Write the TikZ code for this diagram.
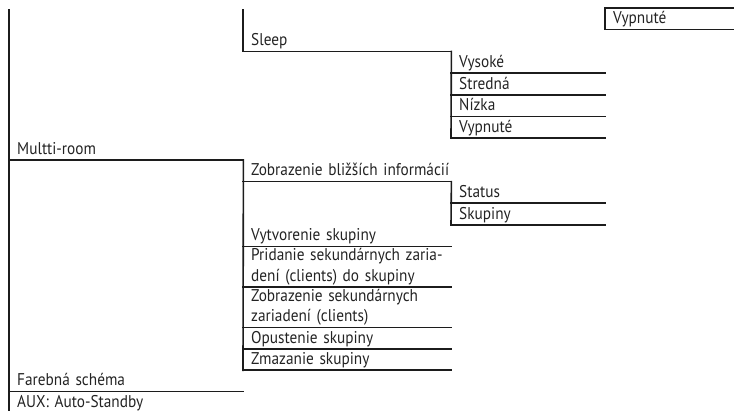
\documentclass[tikz,border=0pt]{standalone}
\usepackage{fontspec}
\newfontfamily\menufont{PT Sans}[FakeStretch=0.9]
\newcommand\twolines[2]{\begin{tabular}[b]{@{}l@{}}#1\\#2\end{tabular}}

\definecolor{menuline}{RGB}{28,28,28}
\definecolor{menutext}{RGB}{35,35,35}

\begin{document}
\begin{tikzpicture}[
  x=1pt, y=-1pt,
  entry/.style={
    anchor=south west,
    inner xsep=8pt,
    inner ysep=0pt,
    text depth=5.5pt,
    align=left,
    text=menutext,
    font=\menufont\fontsize{17}{20.5}\selectfont
  },
  menu one/.style={entry, text width=218pt},
  menu two/.style={entry, text width=192pt},
  menu three/.style={entry, text width=138pt},
  menu four/.style={entry, text width=124pt},
  tree line/.style={
    draw=menuline,
    line width=1.6pt,
    line cap=rect
  }
]
\useasboundingbox (0,0) rectangle (734,411);

\def\colA{9}
\def\colB{243}
\def\colC{451}
\def\colD{605}
\def\rowh{21.7}

\coordinate (A-top) at (\colA,10);
\coordinate (B-top) at (\colB,10);
\coordinate (D-top) at (\colD,8);
\coordinate (D-topend) at (734,8);

\node[menu four] (off) at (\colD,29.7) {Vypnuté};
\node[menu two] (sleep) at (\colB,51.4) {Sleep};

\foreach \lbl [count=\i] in {Vysoké,Stredná,Nízka,Vypnuté} {
  \pgfmathsetmacro{\y}{51.4 + \i*\rowh}
  \node[menu three] (sl-\i) at (\colC,\y) {\lbl};
}

\node[menu one] (multi) at (\colA,159.9) {Multti-room};
\node[menu two] (info) at (\colB,181.6) {\mbox{Zobrazenie bližších informácií}};
\node[menu three] (status) at (\colC,203.3) {Status};
\node[menu three] (groups) at (\colC,225) {Skupiny};
\node[menu two] (create) at (\colB,246.7) {Vytvorenie skupiny};
\node[menu two] (add) at (\colB,287) {\twolines{Pridanie sekundárnych zaria-}{dení (clients) do skupiny}};
\node[menu two] (show) at (\colB,327.5) {\twolines{Zobrazenie sekundárnych}{zariadení (clients)}};
\node[menu two] (leave) at (\colB,348.9) {Opustenie skupiny};
\node[menu two] (delete) at (\colB,370.3) {Zmazanie skupiny};
\node[menu one] (scheme) at (\colA,391.5) {Farebná schéma};
\node[menu one] (aux) at (\colA,413) {AUX: Auto-Standby};

\draw[tree line] (A-top) -- (aux.south west);
\draw[tree line] (B-top) -- (sleep.south west);
\draw[tree line] (multi.south east) -- (delete.south west);
\draw[tree line] (sleep.south east) -- (sl-4.south west);
\draw[tree line] (info.south east) -- (groups.south west);
\draw[tree line] (D-top) -- (off.south west);
\draw[tree line] (D-top) -- (D-topend);

\foreach \n in {off,sleep,sl-1,sl-2,sl-3,sl-4,multi,info,status,groups,create,add,show,leave,delete,scheme} {
  \draw[tree line] (\n.south west) -- (\n.south east);
}
\end{tikzpicture}
\end{document}
